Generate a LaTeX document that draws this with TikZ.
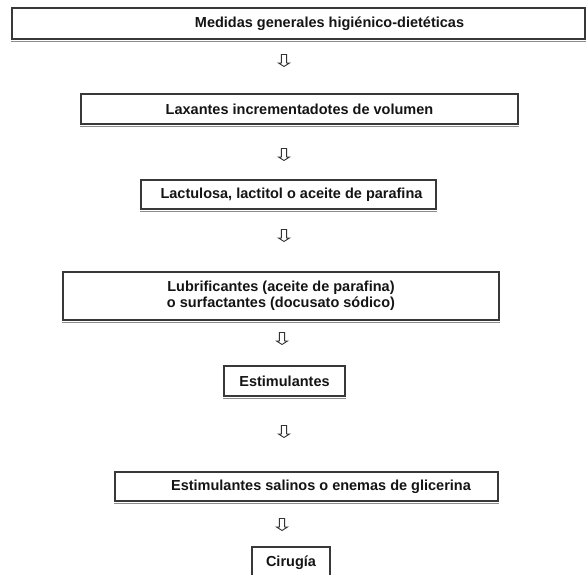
\documentclass[tikz,border=0pt]{standalone}
\usepackage{fontspec}
\setmainfont{Liberation Sans}
\begin{document}
\begin{tikzpicture}[x=1pt,y=-1pt,
  box/.style={draw=black!78, line width=1.3pt, rectangle, inner sep=0pt,
    font=\bfseries\fontsize{14.5}{16}\selectfont, text=black!92},
  boxshadow/.style={draw=black!45, line width=1pt},
  downarr/.pic={\draw[black!80, line width=0.9pt, line join=miter, fill=white]
    (-2.6,-6.5) -- (-2.6,2) -- (-5.5,2) -- (0,5.5) -- (5.5,2) -- (2.6,2) -- (2.6,-6.5) -- cycle;}
]
\useasboundingbox (0,0) rectangle (586,574);

\node[box, minimum width=573pt, minimum height=31pt] (b1) at (298.5,23.5)
  {\hspace*{62pt}Medidas generales higiénico-dietéticas};
\node[box, minimum width=437pt, minimum height=30pt] (b2) at (299.5,109)
  {Laxantes incrementadotes de volumen};
\node[box, minimum width=295pt, minimum height=29pt] (b3) at (288.5,194.5)
  {\hspace*{6pt}Lactulosa, lactitol o aceite de parafina};
\node[box, align=center, minimum width=436pt, minimum height=48pt] (b4) at (281,296)
  {Lubrificantes (aceite de parafina)\\o surfactantes (docusato sódico)};
\node[box, minimum width=121pt, minimum height=30pt] (b5) at (284.5,381)
  {Estimulantes};
\node[box, minimum width=383pt, minimum height=29pt] (b6) at (306.5,486.5)
  {\hspace*{29pt}Estimulantes salinos o enemas de glicerina};
\node[box, minimum width=78pt, minimum height=32pt] (b7) at (291,563)
  {\raisebox{3pt}{Cirugía}};

\foreach \n in {b1,b2,b3,b4,b5,b6}
  \draw[boxshadow] ([yshift=-1.4pt]\n.south west) -- ([yshift=-1.4pt]\n.south east);

\pic at (284,61) {downarr};
\pic at (284,155) {downarr};
\pic at (284,236) {downarr};
\pic at (282,339) {downarr};
\pic at (284,432) {downarr};
\pic at (282,525) {downarr};
\end{tikzpicture}
\end{document}
